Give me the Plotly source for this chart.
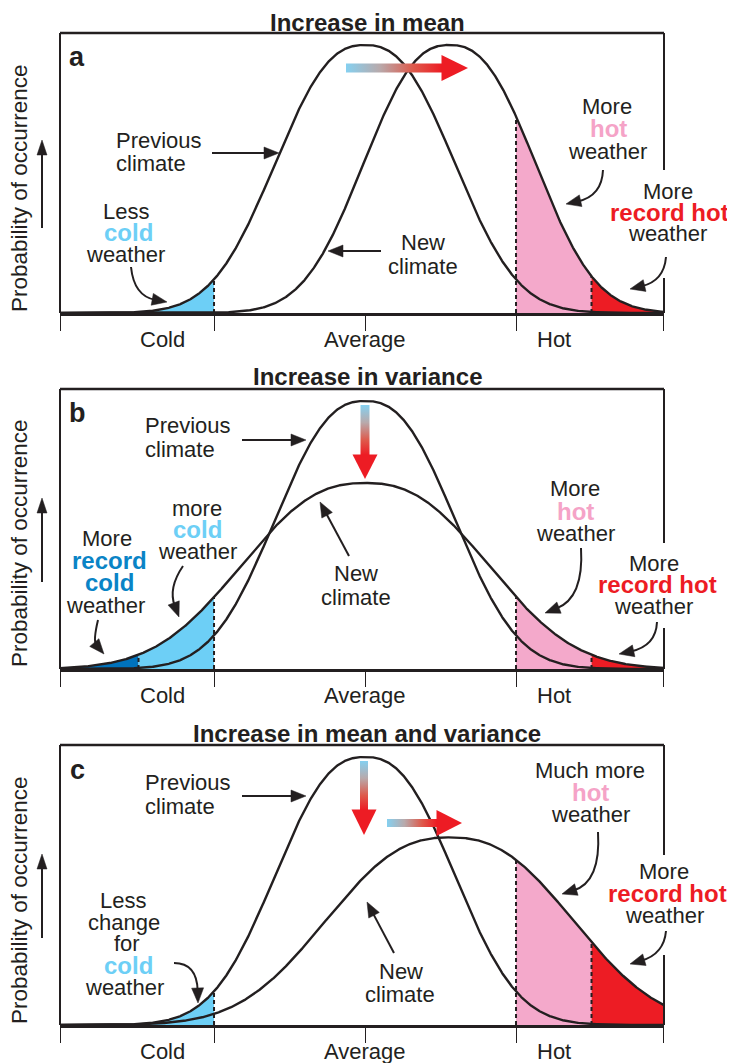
import math
import numpy as np
import plotly.graph_objects as go

# page body has an 8px margin: the figure is sized to fill the rest of the window
PAGE_W, PAGE_H = 735, 1063
OFF = 8
W, H = PAGE_W - OFF, PAGE_H - OFF

# ------------------------------------------------------------------ data
panel_titles = ["Increase in mean", "Increase in variance", "Increase in mean and variance"]
panel_letters = ["a", "b", "c"]
tick_labels = ["Cold", "Average", "Hot"]
tick_label_x = [-1.34, 0.0, 1.25]
boundary_ticks = [-2.0195, -1.0, 0.0, 1.0, 1.9795]
x_min, x_max = -2.02, 1.98
record_cold = -1.5
cold_limit = -1.0
hot_limit = 1.0
record_hot = 1.5

# distribution parameters per panel (a, b, c)
prev_mean = [0.0, 0.0, 0.0]
prev_spread = [0.742, 0.742, 0.742]
prev_peak = [1.0, 1.0, 1.0]
new_mean = [0.56, 0.0, 0.56]
new_spread = [0.71, 1.02, 1.02]
new_peak = [1.0, 0.694, 0.70]
shape_exponent = 2.45

# ------------------------------------------------------------------ styles
INK = "#231f20"
LIGHT_BLUE = "#6dcff6"
DARK_BLUE = "#0072bc"
PINK = "#f4a9cb"
RED = "#ed1c24"
TXT_DARK_BLUE = "#0a84c6"
TXT_PINK = "#f5a3c7"
FONT = "Liberation Sans, Arial, Helvetica, sans-serif"
GRAD = [[0, "#85d0f0"], [0.35, "#b8aaac"], [0.7, "#de5a4c"], [1, "#ed1c24"]]

box_left, box_right = 60, 664
box_top = [33, 389, 745]
box_base = [313, 669, 1025]
right_gap = [(170, 278), (543, 628), (855, 955)]
y_top_val = 280 / 268.0


def curve(x, m, s, pk):
    return pk * np.exp(-np.abs((x - m) / s) ** shape_exponent)


def fx(px):
    return (px - OFF) / W


def fy(py):
    return 1 - (py - OFF) / H


fig = go.Figure()
xs = np.linspace(x_min, x_max, 1201)

fills = [
    [(x_min, cold_limit, "prev", LIGHT_BLUE), (hot_limit, record_hot, "new", PINK), (record_hot, x_max, "new", RED)],
    [(x_min, record_cold, "new", DARK_BLUE), (record_cold, cold_limit, "new", LIGHT_BLUE),
     (hot_limit, record_hot, "new", PINK), (record_hot, x_max, "new", RED)],
    [(x_min, cold_limit, "max", LIGHT_BLUE), (hot_limit, record_hot, "new", PINK), (record_hot, x_max, "new", RED)],
]
dashes = [
    [(cold_limit, "prev"), (hot_limit, "new"), (record_hot, "new")],
    [(record_cold, "new"), (cold_limit, "new"), (hot_limit, "new"), (record_hot, "new")],
    [(cold_limit, "max"), (hot_limit, "new"), (record_hot, "new")],
]

layout_axes = {}
for i in range(3):
    k = i + 1
    xa, ya = f"x{k}", f"y{k}"

    def fp(x, i=i):
        return curve(x, prev_mean[i], prev_spread[i], prev_peak[i])

    def fn(x, i=i):
        return curve(x, new_mean[i], new_spread[i], new_peak[i])

    def pick(name, x):
        if name == "prev":
            return fp(x)
        if name == "new":
            return fn(x)
        return np.maximum(fp(x), fn(x))

    for (a0, a1, nm, col) in fills[i]:
        seg = np.linspace(a0, a1, 200)
        yy = pick(nm, seg)
        fig.add_trace(go.Scatter(
            x=np.concatenate([[a0], seg, [a1]]), y=np.concatenate([[0], yy, [0]]),
            fill="toself", fillcolor=col, mode="lines", line=dict(width=0),
            xaxis=xa, yaxis=ya, hoverinfo="skip", showlegend=False))
    for (dx, nm) in dashes[i]:
        top = float(pick(nm, np.array([dx]))[0])
        fig.add_trace(go.Scatter(
            x=[dx, dx], y=[0, top], mode="lines",
            line=dict(color=INK, width=2.0, dash="4px,3px"),
            xaxis=xa, yaxis=ya, hoverinfo="skip", showlegend=False))
    for f in (fp, fn):
        fig.add_trace(go.Scatter(
            x=xs, y=f(xs), mode="lines", line=dict(color=INK, width=2.4),
            xaxis=xa, yaxis=ya, hoverinfo="skip", showlegend=False))

    layout_axes[f"xaxis{k}"] = dict(
        domain=[fx(box_left), fx(box_right)], range=[x_min, x_max], anchor=ya,
        showgrid=False, zeroline=False, showline=True, linewidth=2.6, linecolor=INK,
        ticks="outside", tickvals=boundary_ticks, ticklen=15, tickwidth=1.3,
        tickcolor=INK, showticklabels=False, fixedrange=True)
    layout_axes[f"yaxis{k}"] = dict(
        domain=[fy(box_base[i]), fy(box_top[i])], range=[0, y_top_val],
        anchor=xa, visible=False, fixedrange=True)

# overlay axes in page-pixel units for decorations
layout_axes["xaxis4"] = dict(domain=[0, 1], range=[OFF, PAGE_W], visible=False, anchor="y4", fixedrange=True)
layout_axes["yaxis4"] = dict(domain=[0, 1], range=[PAGE_H, OFF], visible=False, anchor="x4", fixedrange=True)
fig.add_trace(go.Scatter(x=[OFF + 1], y=[OFF + 1], mode="markers", marker=dict(opacity=0),
                         xaxis="x4", yaxis="y4", hoverinfo="skip", showlegend=False))

shapes = []
annotations = []


def line(x0, y0, x1, y1, w=2.2):
    shapes.append(dict(type="line", x0=x0, y0=y0, x1=x1, y1=y1, xref="x4", yref="y4",
                       line=dict(color=INK, width=w), layer="above"))


def arrow(start, end, ctrl=None, head_len=15, head_w=12, w=2.0):
    sx, sy = start
    ex, ey = end
    cx, cy = ctrl if ctrl is not None else start
    dx, dy = ex - cx, ey - cy
    L = math.hypot(dx, dy)
    ux, uy = dx / L, dy / L
    bx, by = ex - ux * head_len * 0.8, ey - uy * head_len * 0.8
    hx, hy = ex - ux * head_len, ey - uy * head_len
    if ctrl is None:
        path = f"M{sx},{sy} L{bx},{by}"
    else:
        path = f"M{sx},{sy} Q{cx},{cy} {bx},{by}"
    shapes.append(dict(type="path", path=path, xref="x4", yref="y4",
                       line=dict(color=INK, width=w), layer="above"))
    px, py = -uy, ux
    tri = (f"M{ex},{ey} L{hx + px * head_w / 2},{hy + py * head_w / 2} "
           f"L{hx - px * head_w / 2},{hy - py * head_w / 2} Z")
    shapes.append(dict(type="path", path=tri, xref="x4", yref="y4", fillcolor=INK,
                       line=dict(color=INK, width=0.5), layer="above"))


def text(x, y, s, size=22, color=INK, bold=False, anchor="center", angle=0):
    annotations.append(dict(
        x=x, y=y, xref="x4", yref="y4", text=f"<b>{s}</b>" if bold else s,
        showarrow=False, xanchor=anchor, yanchor="middle", textangle=angle,
        font=dict(family=FONT, size=size, color=color)))


def grad_h(x0, x1, yc, th, hl, hw):
    fig.add_trace(go.Scatter(
        x=[x0, x1, x1, x0, x0], y=[yc - th / 2, yc - th / 2, yc + th / 2, yc + th / 2, yc - th / 2],
        fill="toself", mode="lines", line=dict(width=0),
        fillgradient=dict(type="horizontal", colorscale=GRAD, start=x0, stop=x1),
        xaxis="x4", yaxis="y4", hoverinfo="skip", showlegend=False))
    fig.add_trace(go.Scatter(
        x=[x1 - 0.5, x1 - 0.5, x1 + hl, x1 - 0.5], y=[yc - hw / 2, yc + hw / 2, yc, yc - hw / 2],
        fill="toself", fillcolor=RED, mode="lines", line=dict(width=0),
        xaxis="x4", yaxis="y4", hoverinfo="skip", showlegend=False))


def grad_v(xc, y0, y1, th, hl, hw):
    fig.add_trace(go.Scatter(
        x=[xc - th / 2, xc + th / 2, xc + th / 2, xc - th / 2, xc - th / 2], y=[y0, y0, y1, y1, y0],
        fill="toself", mode="lines", line=dict(width=0),
        fillgradient=dict(type="vertical", colorscale=GRAD, start=y0, stop=y1),
        xaxis="x4", yaxis="y4", hoverinfo="skip", showlegend=False))
    fig.add_trace(go.Scatter(
        x=[xc - hw / 2, xc + hw / 2, xc, xc - hw / 2], y=[y1 - 0.5, y1 - 0.5, y1 + hl, y1 - 0.5],
        fill="toself", fillcolor=RED, mode="lines", line=dict(width=0),
        xaxis="x4", yaxis="y4", hoverinfo="skip", showlegend=False))


title_y = [22, 376, 733]
letter_y = [57, 413, 770]
ylabel_c = [188, 543, 900]
yarrow = [(228, 140), (582, 498), (938, 854)]

for i in range(3):
    t, b = box_top[i], box_base[i]
    g0, g1 = right_gap[i]
    line(box_left, t, box_right, t, 2.6)
    line(box_left, t, box_left, b, 2.0)
    line(box_right, t, box_right, g0, 2.0)
    line(box_right, g1, box_right, b, 2.0)
    text(367, title_y[i], panel_titles[i], size=24, bold=True)
    text(77, letter_y[i], panel_letters[i], size=27, bold=True)
    text(19, ylabel_c[i], "Probability of occurrence", size=22.5, angle=-90)
    arrow((42, yarrow[i][0]), (42, yarrow[i][1]), head_len=15, head_w=10, w=2.0)
    for lab, lx in zip(tick_labels, tick_label_x):
        annotations.append(dict(x=lx, y=b + 26, xref=f"x{i + 1}", yref="y4", text=lab,
                                showarrow=False, xanchor="center", yanchor="middle",
                                font=dict(family=FONT, size=22, color=INK)))

# ---- panel a
text(114, 140, "Previous", anchor="left")
text(114, 163, "climate", anchor="left")
arrow((212, 153), (279, 153))
text(126, 211, "Less")
text(128, 232, "cold", size=24, color=LIGHT_BLUE, bold=True)
text(125, 254, "weather")
arrow((131, 267), (167, 302), ctrl=(134, 296))
text(423, 242, "New")
text(423, 266, "climate")
arrow((381, 251), (328, 251))
text(607, 106, "More")
text(608, 128, "hot", size=24, color=TXT_PINK, bold=True)
text(607, 151, "weather")
arrow((603, 170), (566, 204), ctrl=(602, 196))
text(668, 191, "More")
text(669, 212, "record hot", size=24, color=RED, bold=True)
text(667, 233, "weather")
arrow((666, 257), (630, 289), ctrl=(664, 281))
grad_h(346, 442, 68, 9, 26, 26)

# ---- panel b
text(143, 425, "Previous", anchor="left")
text(143, 449, "climate", anchor="left")
arrow((242, 440), (306, 440))
text(107, 538, "More")
text(109, 560, "record", size=24, color=TXT_DARK_BLUE, bold=True)
text(109, 582, "cold", size=24, color=TXT_DARK_BLUE, bold=True)
text(105, 605, "weather")
arrow((98, 620), (104, 654), ctrl=(93, 641))
text(197, 508, "more")
text(197, 529, "cold", size=24, color=LIGHT_BLUE, bold=True)
text(197, 551, "weather")
arrow((183, 566), (179, 617), ctrl=(168, 588))
text(356, 573, "New")
text(356, 597, "climate")
arrow((349, 556), (320, 502))
text(575, 488, "More")
text(575, 511, "hot", size=24, color=TXT_PINK, bold=True)
text(575, 533, "weather")
arrow((581, 548), (545, 613), ctrl=(584, 598))
text(654, 563, "More")
text(657, 584, "record hot", size=24, color=RED, bold=True)
text(653, 606, "weather")
arrow((657, 622), (619, 654), ctrl=(656, 646))
grad_v(365, 405, 455, 9, 24, 25)

# ---- panel c
text(143, 782, "Previous", anchor="left")
text(143, 806, "climate", anchor="left")
arrow((242, 796), (306, 796))
text(590, 770, "Much more")
text(590, 792, "hot", size=24, color=TXT_PINK, bold=True)
text(590, 814, "weather")
arrow((598, 832), (562, 894), ctrl=(601, 882))
text(664, 871, "More")
text(667, 893, "record hot", size=24, color=RED, bold=True)
text(664, 915, "weather")
arrow((666, 931), (630, 964), ctrl=(664, 954))
text(123, 900, "Less")
text(124, 922, "change")
text(127, 943, "for")
text(128, 965, "cold", size=24, color=LIGHT_BLUE, bold=True)
text(124, 987, "weather")
arrow((174, 963), (198, 1003), ctrl=(197, 963))
text(401, 971, "New")
text(400, 994, "climate")
arrow((394, 953), (367, 902))
grad_v(364, 761, 810, 8, 25, 25)
grad_h(387, 437, 823, 8, 25, 26)

fig.update_layout(
    width=W, height=H, margin=dict(l=0, r=0, t=0, b=0),
    paper_bgcolor="white", plot_bgcolor="rgba(0,0,0,0)", showlegend=False,
    shapes=shapes, annotations=annotations, **layout_axes)

fig.write_html("out.html")
